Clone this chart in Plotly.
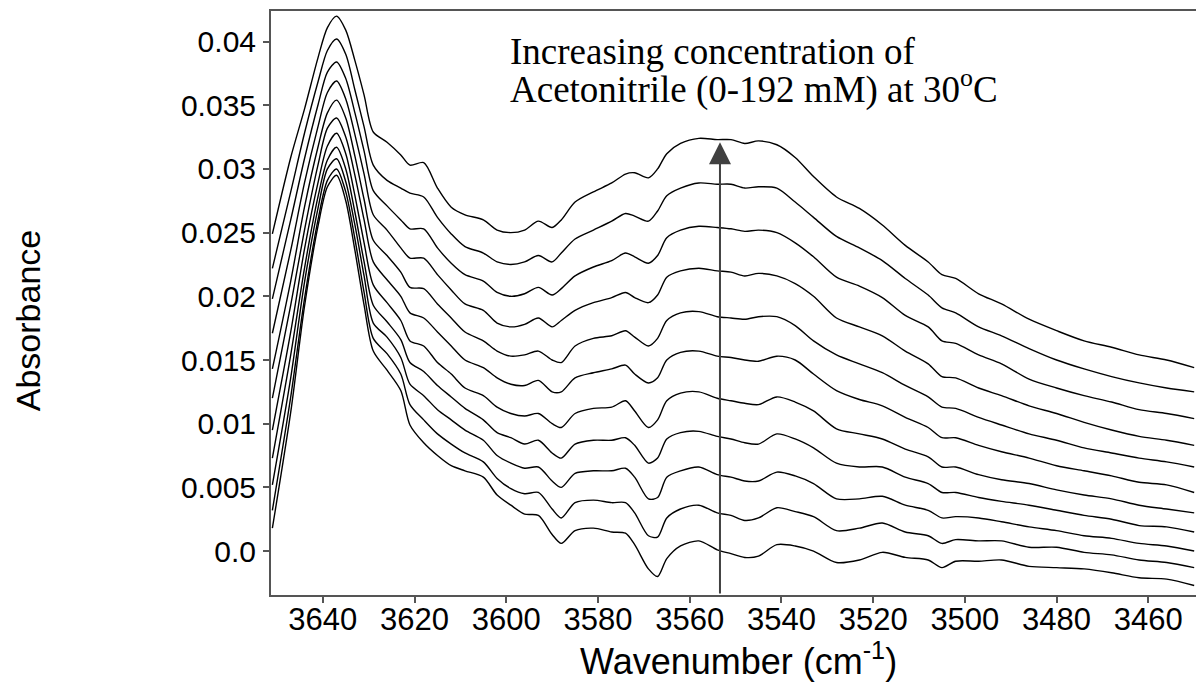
import plotly.graph_objects as go

# Wavenumber grid (cm-1)
wavenumber = [3651, 3647, 3644, 3641, 3639, 3637, 3635, 3633, 3631, 3629,
              3626, 3623, 3621, 3618, 3615, 3612, 3609, 3605, 3602, 3599,
              3596, 3593, 3590, 3588, 3585, 3581, 3577, 3574, 3572, 3569,
              3567, 3565, 3562, 3558, 3554, 3551, 3548, 3545, 3541, 3537,
              3533, 3528, 3523, 3518, 3513, 3508, 3505, 3502, 3497, 3492,
              3486, 3480, 3474, 3468, 3462, 3456, 3450]

# Absorbance values in milli-absorbance units (x 1e-3), lowest to highest concentration
spectrum_01 = [1.8, 10.9, 19.2, 25.6, 28.6, 29.5, 27.5, 23.6, 19.3, 15.7, 14.2, 12.6, 9.9, 8.5, 7.5, 6.7, 6.3, 5.8, 4.4, 3.6,
               2.9, 2.8, 1.3, 0.6, 1.6, 1.8, 1.5, 1.4, 0.5, -1.4, -2.0, -0.6, 0.4, 0.8, 0.1, -0.2, -0.5, -0.4, 0.5, 0.4,
               0.0, -0.9, -0.7, -0.1, -0.5, -0.7, -1.3, -0.8, -0.8, -0.7, -1.2, -1.3, -1.4, -1.7, -2.1, -2.2, -2.7]
spectrum_02 = [3.2, 12.1, 19.8, 26.1, 29.1, 30.0, 28.2, 24.5, 20.3, 16.7, 15.5, 13.9, 11.5, 10.3, 9.2, 8.4, 7.7, 7.0, 5.7, 4.9,
               4.5, 4.6, 3.3, 2.6, 3.8, 4.0, 3.8, 3.8, 3.0, 1.2, 1.1, 2.6, 3.3, 3.6, 3.0, 2.8, 2.4, 2.6, 3.4, 3.1,
               2.7, 1.6, 1.8, 2.2, 1.5, 1.2, 0.6, 0.9, 0.8, 0.8, 0.3, 0.3, -0.1, -0.3, -0.7, -0.9, -1.3]
spectrum_03 = [5.2, 13.6, 21.1, 27.0, 30.0, 30.8, 29.0, 25.6, 21.6, 17.9, 16.8, 15.2, 13.1, 12.2, 11.1, 10.3, 9.5, 8.7, 7.5, 6.9,
               6.5, 6.6, 5.5, 5.0, 6.1, 6.3, 6.3, 6.5, 5.8, 4.1, 4.2, 5.8, 6.3, 6.6, 6.0, 5.8, 5.5, 5.5, 6.2, 5.9,
               5.3, 4.1, 4.1, 4.3, 3.6, 3.2, 2.6, 2.7, 2.6, 2.3, 1.9, 1.6, 1.2, 1.0, 0.6, 0.4, 0.0]
spectrum_04 = [7.3, 15.4, 22.2, 27.9, 30.7, 31.7, 30.0, 26.6, 22.7, 19.3, 18.0, 16.6, 14.8, 14.1, 13.0, 12.1, 11.2, 10.3, 9.3, 8.9,
               8.4, 8.7, 7.7, 7.3, 8.4, 8.7, 8.7, 8.9, 8.3, 6.9, 7.3, 8.8, 9.3, 9.4, 9.0, 8.8, 8.5, 8.4, 9.2, 8.8,
               8.1, 6.9, 6.6, 6.6, 5.8, 5.3, 4.6, 4.6, 4.2, 3.9, 3.6, 3.2, 2.8, 2.5, 2.0, 1.9, 1.5]
spectrum_05 = [9.5, 17.2, 23.7, 29.0, 31.8, 32.8, 31.2, 27.9, 24.2, 20.9, 19.5, 18.1, 16.5, 16.1, 14.8, 13.9, 12.8, 12.2, 11.3, 10.8,
               10.6, 10.8, 10.0, 9.7, 10.8, 11.2, 11.3, 11.8, 11.0, 9.7, 10.3, 11.8, 12.4, 12.5, 12.0, 11.8, 11.6, 11.5, 12.1, 11.7,
               11.0, 9.6, 9.2, 8.8, 8.0, 7.4, 6.6, 6.6, 6.0, 5.6, 5.3, 4.8, 4.4, 4.1, 3.6, 3.3, 3.0]
spectrum_06 = [12.0, 19.3, 25.2, 30.4, 33.2, 34.0, 32.5, 29.5, 26.0, 22.7, 21.3, 20.0, 18.7, 18.3, 17.2, 16.1, 15.0, 14.4, 13.6, 13.1,
               13.0, 13.4, 12.5, 12.5, 13.6, 14.0, 14.3, 14.6, 13.9, 13.2, 13.6, 15.0, 15.6, 15.7, 15.3, 15.2, 15.0, 14.9, 15.3, 15.0,
               13.9, 12.6, 11.9, 11.4, 10.5, 9.7, 8.9, 8.9, 8.3, 7.8, 7.3, 6.7, 6.3, 5.9, 5.4, 5.2, 4.6]
spectrum_07 = [14.3, 21.2, 27.0, 31.8, 34.4, 35.4, 34.0, 31.0, 27.6, 24.4, 23.2, 21.9, 20.7, 20.6, 19.4, 18.3, 17.2, 16.5, 15.7, 15.3,
               15.4, 15.7, 15.0, 14.8, 16.1, 16.7, 16.9, 17.3, 16.8, 16.1, 16.7, 18.1, 18.7, 18.8, 18.4, 18.3, 18.2, 18.4, 18.4, 17.7,
               16.5, 15.4, 14.7, 14.0, 13.0, 12.1, 11.3, 11.2, 10.5, 9.9, 9.2, 8.7, 8.1, 7.7, 7.3, 7.0, 6.6]
spectrum_08 = [17.1, 23.6, 28.9, 33.4, 36.0, 36.9, 35.5, 32.7, 29.6, 26.4, 25.2, 23.8, 23.0, 23.0, 21.7, 20.5, 19.4, 18.9, 17.9, 17.6,
               17.8, 18.3, 17.6, 18.1, 18.9, 19.5, 19.9, 20.3, 19.9, 19.5, 20.1, 21.5, 22.0, 22.2, 22.0, 21.9, 21.6, 21.8, 21.6, 21.0,
               20.0, 18.3, 17.6, 16.9, 15.7, 14.7, 13.7, 13.6, 12.8, 12.2, 11.4, 10.8, 10.1, 9.5, 9.0, 8.7, 8.3]
spectrum_09 = [19.8, 26.0, 30.8, 35.1, 37.6, 38.4, 37.1, 34.4, 31.4, 28.3, 27.1, 26.0, 25.3, 25.3, 23.8, 22.6, 21.7, 21.2, 20.3, 20.0,
               20.2, 20.7, 20.1, 20.6, 21.6, 22.3, 22.8, 23.4, 23.1, 22.6, 23.2, 24.6, 25.2, 25.5, 25.4, 25.3, 25.1, 25.2, 25.0, 24.2,
               23.1, 21.5, 20.8, 19.9, 18.5, 17.6, 16.5, 16.3, 15.4, 14.7, 13.5, 12.8, 12.2, 11.7, 11.1, 10.8, 10.4]
spectrum_10 = [22.2, 28.2, 32.8, 36.9, 39.3, 40.2, 39.0, 36.2, 33.3, 30.3, 29.1, 28.5, 28.1, 27.8, 26.2, 24.9, 23.9, 23.4, 22.7, 22.5,
               22.7, 23.2, 22.7, 23.4, 24.5, 25.2, 25.9, 26.5, 26.3, 25.9, 26.7, 27.9, 28.5, 28.9, 28.8, 28.8, 28.5, 28.6, 28.5, 27.4,
               26.2, 24.7, 23.8, 22.8, 21.4, 20.1, 19.1, 18.7, 17.6, 16.9, 15.9, 15.0, 14.3, 13.7, 13.2, 12.8, 12.5]
spectrum_11 = [24.9, 30.9, 34.7, 38.8, 41.1, 42.0, 40.9, 38.5, 35.8, 32.9, 32.1, 31.1, 30.3, 30.5, 28.5, 27.0, 26.4, 26.0, 25.2, 25.0,
               25.2, 25.9, 25.4, 26.0, 27.4, 28.2, 28.9, 29.6, 29.7, 29.3, 30.0, 31.2, 32.0, 32.4, 32.3, 32.3, 32.0, 32.2, 31.9, 30.9,
               29.4, 27.8, 26.9, 25.6, 24.0, 22.7, 21.7, 21.4, 20.2, 19.4, 18.2, 17.3, 16.5, 16.0, 15.4, 15.0, 14.4]

spectra = [spectrum_01, spectrum_02, spectrum_03, spectrum_04, spectrum_05, spectrum_06,
           spectrum_07, spectrum_08, spectrum_09, spectrum_10, spectrum_11]

x_ticks = [3640, 3620, 3600, 3580, 3560, 3540, 3520, 3500, 3480, 3460]
y_ticks = [0.0, 0.005, 0.01, 0.015, 0.02, 0.025, 0.03, 0.035, 0.04]
y_tick_text = ["0.0", "0.005", "0.01", "0.015", "0.02", "0.025", "0.03", "0.035", "0.04"]

annotation_line1 = "Increasing concentration of"
annotation_line2 = "Acetonitrile (0-192 mM) at 30<sup>o</sup>C"
arrow_wavenumber = 3553.4
arrow_tip = 0.0321

x_range = [3651.3, 3449.6]
y_range = [-0.00345, 0.0424]

fig = go.Figure()
for s in spectra:
    fig.add_trace(go.Scatter(
        x=wavenumber, y=[v / 1000 for v in s], mode="lines",
        line=dict(color="black", width=1.4, shape="spline", smoothing=0.8),
        showlegend=False, hoverinfo="skip"))

axis_color = "#555555"
tick_font_y = dict(family="Liberation Sans, Arial, sans-serif", size=30, color="black")
tick_font_x = dict(family="Liberation Sans, Arial, sans-serif", size=31, color="black")

fig.update_xaxes(range=x_range, showgrid=False, zeroline=False,
                 showline=True, linecolor=axis_color, linewidth=2, mirror=True,
                 ticks="outside", ticklen=6, tickwidth=1.5, tickcolor=axis_color,
                 tickvals=x_ticks, tickfont=tick_font_x, ticklabelstandoff=-10)
fig.update_yaxes(range=y_range, showgrid=False, zeroline=False,
                 showline=True, linecolor=axis_color, linewidth=2, mirror=False,
                 ticks="outside", ticklen=6, tickwidth=1.5, tickcolor=axis_color,
                 tickvals=y_ticks, ticktext=y_tick_text, tickfont=tick_font_y,
                 ticklabelstandoff=1)

serif = dict(family="Liberation Serif, Times New Roman, serif", size=37, color="black")
fig.add_annotation(x=3599.6, y=0.0392, xref="x", yref="y", text=annotation_line1,
                   showarrow=False, xanchor="left", yanchor="middle", font=serif)
fig.add_annotation(x=3599.6, y=0.0364, xref="x", yref="y", text=annotation_line2,
                   showarrow=False, xanchor="left", yanchor="middle", font=serif)

# vertical arrow
fig.add_annotation(x=arrow_wavenumber, y=arrow_tip, ax=arrow_wavenumber, ay=y_range[0],
                   xref="x", yref="y", axref="x", ayref="y", text="", showarrow=True,
                   arrowhead=2, arrowsize=2.2, arrowwidth=2, arrowcolor="#404040")

sans_title = dict(family="Liberation Sans, Arial, sans-serif", size=36, color="black")
fig.add_annotation(x=0.505, y=-0.067, xref="paper", yref="paper",
                   text="Wavenumber (cm<sup>-1</sup>)", showarrow=False,
                   xanchor="center", yanchor="top", font=sans_title)
fig.add_annotation(x=-0.263, y=0.47, xref="paper", yref="paper",
                   text="Absorbance", textangle=-90, showarrow=False,
                   xanchor="center", yanchor="middle",
                   font=dict(family="Liberation Sans, Arial, sans-serif", size=34, color="black"))

fig.update_layout(width=1196, height=692, paper_bgcolor="white", plot_bgcolor="white",
                  margin=dict(l=271, r=0, t=11, b=97))

fig.write_html("out.html", config={"displayModeBar": False},
               post_script="document.body.style.margin='0';document.body.style.overflow='hidden';")
